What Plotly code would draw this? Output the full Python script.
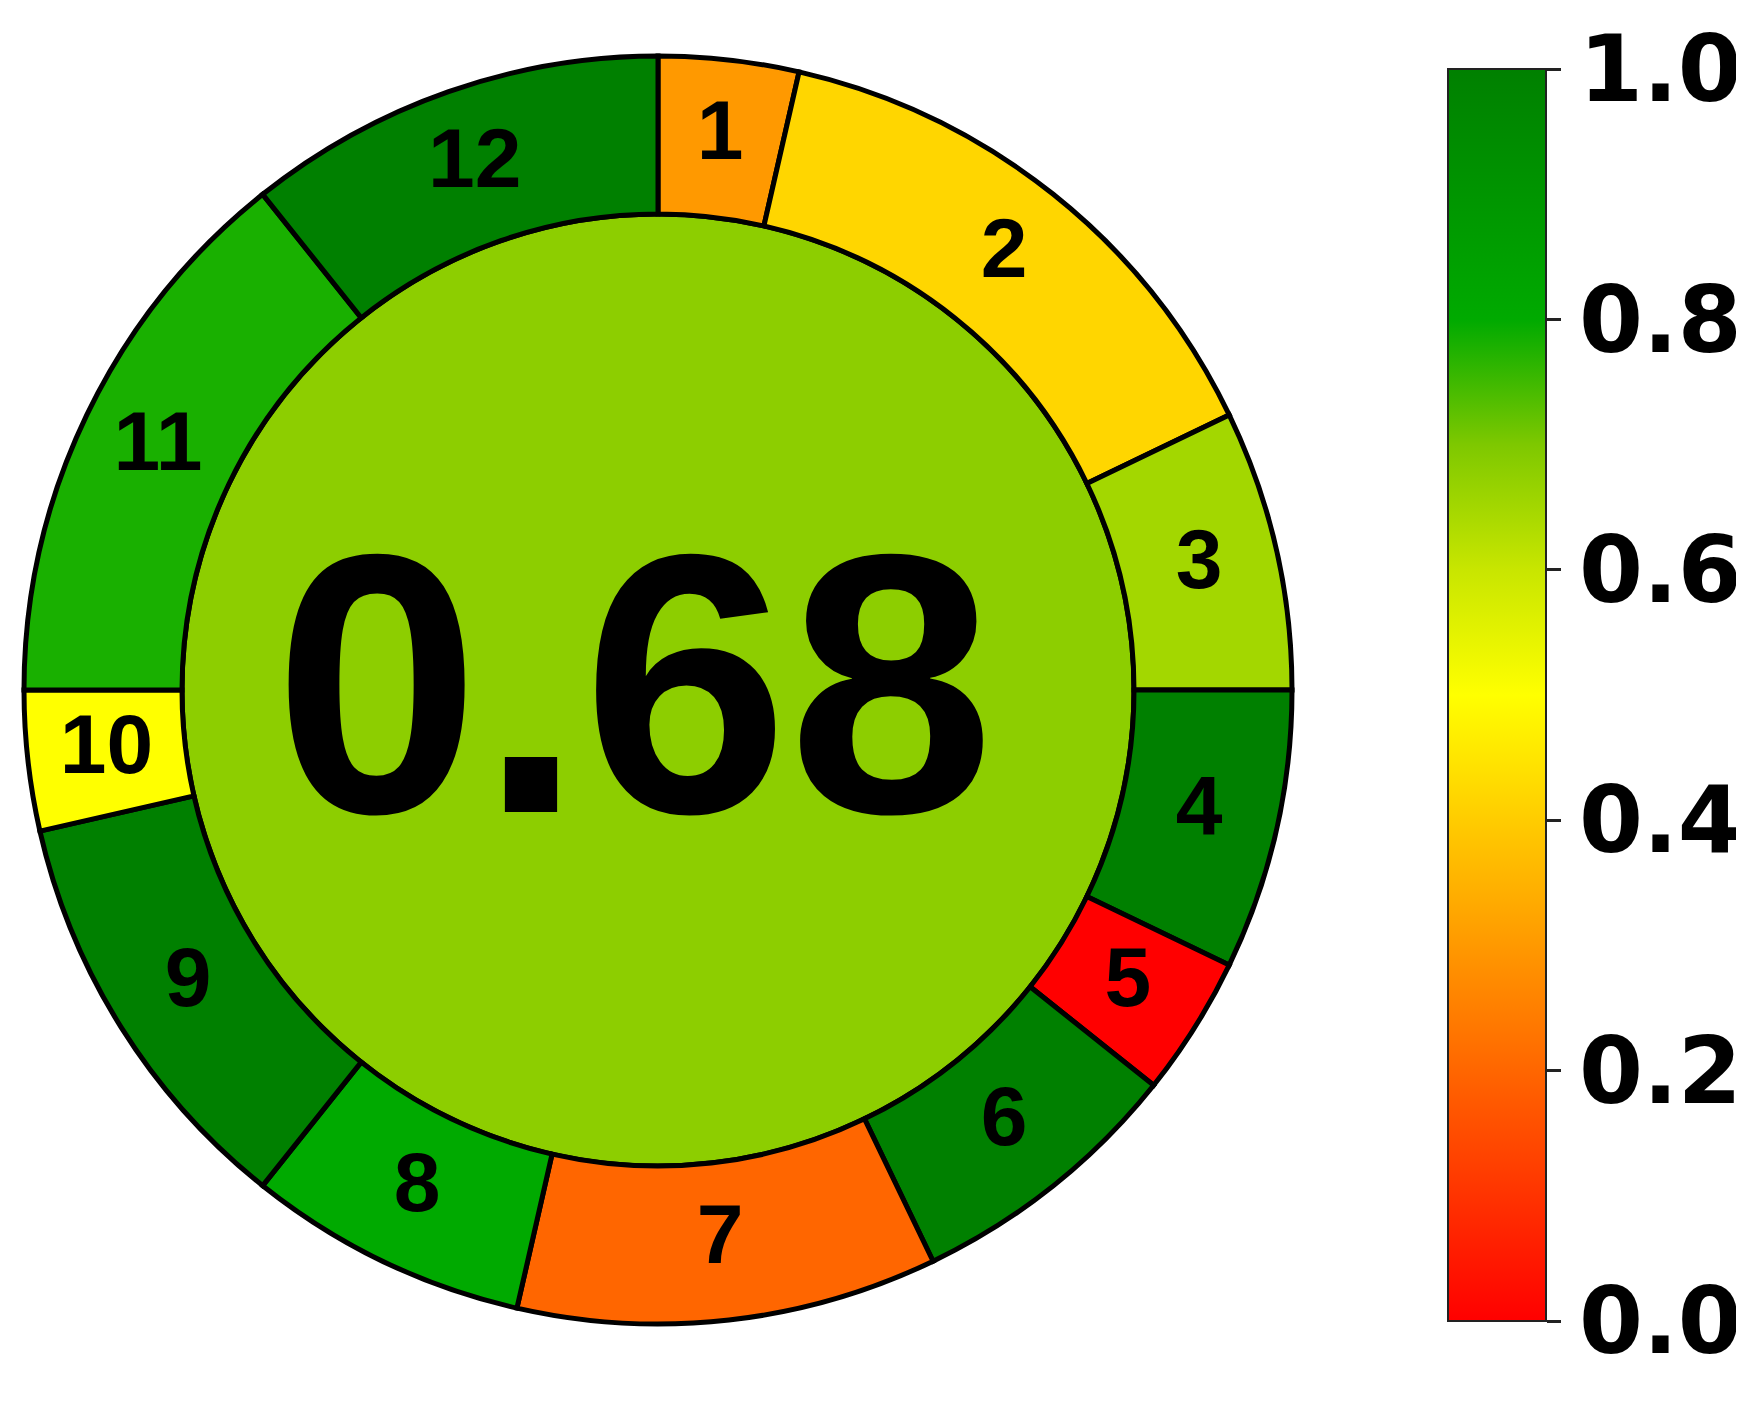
"""AGREE pictogram : anneau de 12 principes + score global."""
import numpy as np
import plotly.graph_objects as go

PRINCIPLES = ["1", "2", "3", "4", "5", "6", "7", "8", "9", "10", "11", "12"]
WEIGHTS = [1, 4, 2, 2, 1, 2, 3, 2, 3, 1, 4, 3]
SCORES = [0.30, 0.42, 0.65, 1.0, 0.0, 1.0, 0.20, 0.80, 1.0, 0.50, 0.78, 1.0]
TOTAL_SCORE = 0.68
CBAR_TICKS = [0.0, 0.2, 0.4, 0.6, 0.8, 1.0]
CBAR_LABELS = ["0.0", "0.2", "0.4", "0.6", "0.8", "1.0"]

AGREE_SCALE = [
    [0.0, "#ff0000"], [0.1, "#ff3300"], [0.2, "#ff6600"], [0.3, "#ff9900"],
    [0.4, "#ffcc00"], [0.5, "#ffff00"], [0.6, "#c8e600"], [0.7, "#7ec800"],
    [0.8, "#00aa00"], [1.0, "#008000"],
]

W, H = 1744, 1404
OFF = 8                    # marge par defaut du <body> de la page
CX, CY = 658 - OFF, 690 - OFF   # centre du cercle (px, dans la figure)
R_DOM = 640                # demi-cote du domaine = portee de l'axe radial
R_OUT, R_IN = 634, 476     # rayons (1 unite = 1 px)

# angles (sens horaire depuis le haut), proportionnels aux poids
w = np.array(WEIGHTS, dtype=float)
span = w / w.sum() * 360
edges = np.concatenate([[0], np.cumsum(span)])
mid = (edges[:-1] + edges[1:]) / 2

fig = go.Figure()

# score global au centre
fig.add_trace(go.Barpolar(
    r=[R_IN], theta=[0], width=[360], base=0,
    marker=dict(color=[TOTAL_SCORE], colorscale=AGREE_SCALE, cmin=0, cmax=1,
                line=dict(color="black", width=5)),
    hoverinfo="skip", showlegend=False,
))

# segments des principes
fig.add_trace(go.Barpolar(
    r=[R_OUT - R_IN] * len(PRINCIPLES), base=R_IN, theta=mid, width=span,
    marker=dict(
        color=SCORES, colorscale=AGREE_SCALE, cmin=0, cmax=1,
        line=dict(color="black", width=5),
        showscale=True,
        colorbar=dict(
            x=(1448 - OFF) / W, xanchor="left", xpad=0,
            y=1 - (695 - OFF) / H, yanchor="middle", ypad=0,
            len=1252, lenmode="pixels",
            thickness=98, thicknessmode="pixels",
            outlinewidth=2, outlinecolor="#222",
            tickvals=CBAR_TICKS, ticktext=CBAR_LABELS,
            ticks="outside", ticklen=14, tickwidth=3, tickcolor="#222",
            tickfont=dict(family="DejaVu Sans", size=92, color="black", weight="bold"),
        ),
    ),
    hoverinfo="skip", showlegend=False,
))

# numeros des principes
fig.add_trace(go.Scatterpolar(
    r=[(R_IN + R_OUT) / 2] * len(PRINCIPLES), theta=mid, mode="text",
    text=PRINCIPLES, textposition="middle center",
    textfont=dict(family="Liberation Sans, Arial", size=84, color="black", weight="bold"),
    hoverinfo="skip", showlegend=False,
))

fig.add_annotation(
    x=(CX - 24) / W, y=1 - (CY - 6) / H, xref="paper", yref="paper",
    text=f"{TOTAL_SCORE:.2f}", showarrow=False, xanchor="center", yanchor="middle",
    font=dict(family="Liberation Sans, Arial", size=370, color="black", weight="bold"),
)

fig.update_layout(
    width=W, height=H,
    margin=dict(l=0, r=0, t=0, b=0, autoexpand=False),
    paper_bgcolor="white",
    polar=dict(
        domain=dict(x=[(CX - R_DOM) / W, (CX + R_DOM) / W],
                    y=[1 - (CY + R_DOM) / H, 1 - (CY - R_DOM) / H]),
        bgcolor="white",
        radialaxis=dict(visible=False, range=[0, R_DOM]),
        angularaxis=dict(visible=False, rotation=90, direction="clockwise"),
    ),
)

fig.write_html("out.html")
